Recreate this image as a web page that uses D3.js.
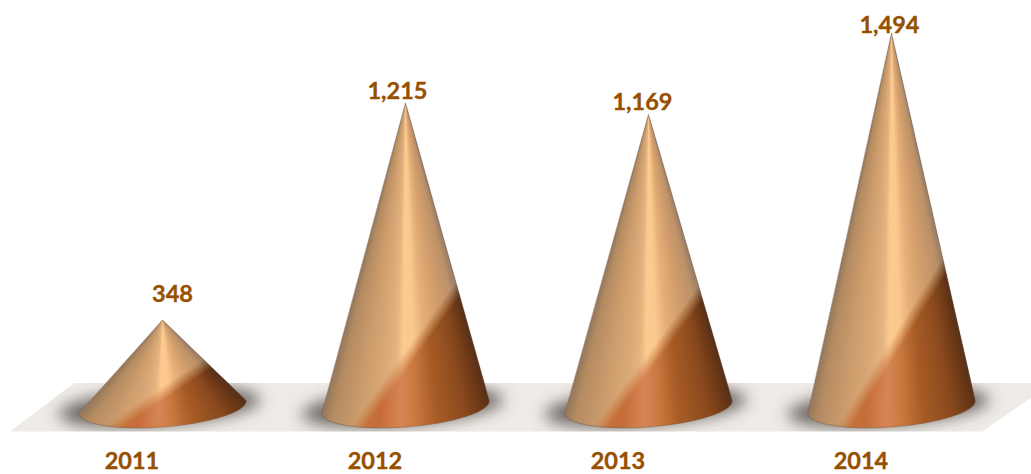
<!DOCTYPE html>
<html><head><meta charset="utf-8">
<script src="https://cdn.jsdelivr.net/npm/d3@7"></script>
<style>html,body{margin:0;padding:0;background:#fff;overflow:hidden}svg{display:block}</style>
</head><body><div id="chart"></div>
<script>
const years = ["2011","2012","2013","2014"];
const values = [348,1215,1169,1494];

const W=1031,H=474;
const x=d3.scalePoint().domain(years).range([162.5,891.5]);
const y=d3.scaleLinear().domain([0,1494]).range([407,33]);
const A=84,B=20,TILT=-4.4,RAD=TILT*Math.PI/180;
const cosT=Math.cos(RAD),sinT=Math.sin(RAD);
const labelDx={"2011":10,"2012":-8,"2013":-6,"2014":-2};
const fmt=d3.format(",");
const lightC=d3.scaleLinear()
  .domain([-1,-.9,-.6,-.3,-.16,-.06,.1,.26,.5,.85,1])
  .range(["#9a7a5c","#b48c62","#cc9c6c","#dbaa78","#e6b47f","#fccb90","#fbc88d","#e6b07b","#d4a06e","#bd9168","#957c68"]);
const darkC=d3.scaleLinear()
  .domain([-1,-.6,-.35,-.08,.1,.35,.7,.9,1])
  .range(["#b87a45","#c6783f","#c66d38","#d68656","#c9793f","#a85c26","#8a4a1e","#6b3816","#55301a"]);

const svg=d3.select("#chart").append("svg").attr("width",W).attr("height",H);
const defs=svg.append("defs");
defs.append("filter").attr("id","blur").attr("x","-30%").attr("y","-100%").attr("width","160%").attr("height","300%")
  .append("feGaussianBlur").attr("stdDeviation",8);
const floorD="M10,431.5L74,383H1031V398L982,431.5Z";
defs.append("clipPath").attr("id","floorClip").append("path").attr("d",floorD);
svg.append("path").attr("d",floorD).attr("fill","#efebe6");

const shadows=svg.append("g").attr("clip-path","url(#floorClip)");
shadows.selectAll("ellipse").data(years).join("ellipse")
  .attr("cx",0).attr("cy",0).attr("rx",101).attr("ry",18)
  .attr("transform",d=>`translate(${x(d)-3},${y(0)}) rotate(${TILT})`)
  .attr("fill","#4f4a48").attr("fill-opacity",.85).attr("filter","url(#blur)");

function basePoint(cx,cy,u){
  const ex=A*u, ey=B*Math.sqrt(Math.max(0,1-u*u));
  return [cx+ex*cosT-ey*sinT, cy+ex*sinT+ey*cosT];
}
const N=110;
const us=d3.range(N).map(k=>-1+2*k/N);
function conePath(cx,cy,ay){
  const l=basePoint(cx,cy,-1),r=basePoint(cx,cy,1);
  return `M${cx},${ay}L${l}A${A},${B} ${TILT} 0 0 ${r}Z`;
}
const cones=svg.selectAll("g.cone").data(years).join("g").attr("class","cone");
cones.each(function(d,i){
  const g=d3.select(this),cx=x(d),cy=y(0),ay=y(values[i]),h=cy-ay;
  const rise=20+0.32*h;
  const x0=cx-0.55*A,y0=cy+17,x1=cx+0.62*A,y1=cy-rise;
  const dx=x1-x0,dy=y1-y0,len=Math.hypot(dx,dy),nx=-dy/len,ny=dx/len;
  const mid=[(x0+x1)/2,(y0+y1)/2],w=6;
  const mg=defs.append("linearGradient").attr("id","m"+i).attr("gradientUnits","userSpaceOnUse")
    .attr("x1",mid[0]-nx*w).attr("y1",mid[1]-ny*w).attr("x2",mid[0]+nx*w).attr("y2",mid[1]+ny*w);
  mg.append("stop").attr("offset",0).attr("stop-color","#000");
  mg.append("stop").attr("offset",1).attr("stop-color","#fff");
  defs.append("mask").attr("id","mask"+i).attr("maskUnits","userSpaceOnUse")
    .attr("x",0).attr("y",0).attr("width",W).attr("height",H)
    .append("rect").attr("width",W).attr("height",H).attr("fill",`url(#m${i})`);
  const p=conePath(cx,cy,ay);
  defs.append("clipPath").attr("id","cone"+i).append("path").attr("d",p);
  // each slice overlaps the next one and is painted over by it, so no seams show
  const slice=u=>{
    const a=basePoint(cx,cy,u),b=basePoint(cx,cy,Math.min(1,u+6/N));
    const ext=pt=>[cx+(pt[0]-cx)*1.03, ay+(pt[1]-ay)*1.03];
    return `M${cx},${ay}L${ext(a)}L${ext(b)}Z`;
  };
  const clip=g.append("g").attr("clip-path",`url(#cone${i})`);
  clip.append("g").selectAll("path").data(us).join("path").attr("d",slice)
    .attr("fill",u=>lightC(u));
  clip.append("g").attr("mask",`url(#mask${i})`).selectAll("path").data(us).join("path").attr("d",slice)
    .attr("fill",u=>darkC(u));
  g.append("path").attr("d",p).attr("fill","none").attr("stroke","#6f5d50").attr("stroke-width",0.8).attr("stroke-opacity",.6);
});

const font="Lato, 'Open Sans', sans-serif", col="#974f00", fs=23.5;
svg.selectAll("text.val").data(years).join("text").attr("class","val")
  .attr("x",d=>x(d)+labelDx[d]).attr("y",(d,i)=>y(values[i])-(i==0?18:(i==3?0:4)))
  .attr("text-anchor","middle").attr("font-family",font).attr("font-weight",700).attr("font-size",fs)
  .attr("fill",col).attr("stroke",col).attr("stroke-width",.35)
  .text((d,i)=>fmt(values[i]));
const ax=d3.axisBottom(x).tickSize(0).tickPadding(0);
const axG=svg.append("g").attr("transform","translate(-31,452.5)").call(ax);
axG.select(".domain").remove();
axG.selectAll("text").attr("font-family",font).attr("font-weight",700).attr("font-size",fs)
  .attr("fill",col).attr("stroke",col).attr("stroke-width",.35);
</script></body></html>
